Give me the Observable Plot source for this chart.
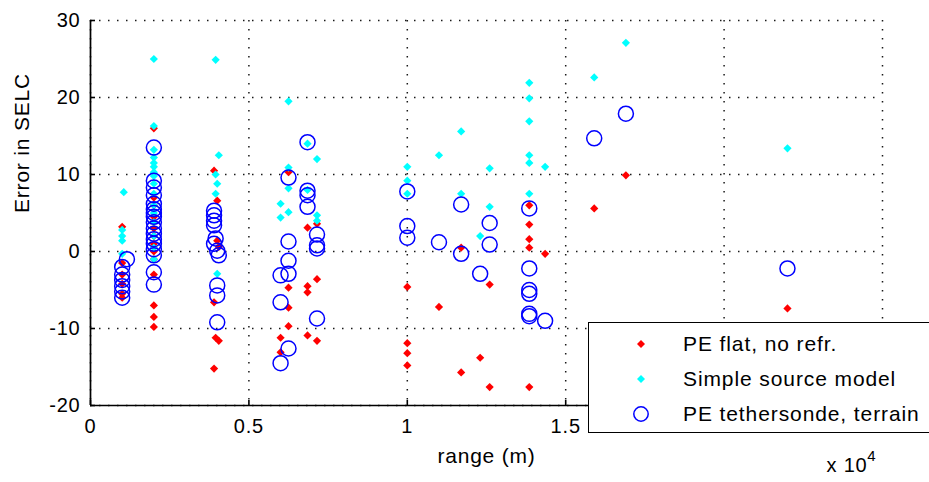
<!DOCTYPE html>
<html>
<head>
<meta charset="utf-8">
<script src="https://cdn.jsdelivr.net/npm/d3@7"></script>
<script src="https://cdn.jsdelivr.net/npm/@observablehq/plot@0.6"></script>
<style>
  html, body { margin: 0; padding: 0; background: #fff; }
  #wrap { position: relative; width: 929px; height: 482px; overflow: hidden; font-family: "Liberation Sans", Arial, sans-serif; }
  #legend { position: absolute; left: 588px; top: 322px; width: 360px; height: 111px; background: #fff; border: 1px solid #000; box-sizing: border-box; }
  .row { position: absolute; left: 0; height: 30px; display: flex; align-items: center; font-size: 21px; letter-spacing: 0.9px; color: #000; white-space: nowrap; }
  .row svg { margin-left: 43px; margin-right: 33px; }
</style>
</head>
<body>
<div id="wrap"></div>
<script>
// ---- Data (range in m, error in dB) ----
const xTicks = [0, 5000, 10000, 15000, 20000, 25000];
const xTickLabels = ["0", "0.5", "1", "1.5", "2", "2.5"];
const yTicks = [-20, -10, 0, 10, 20, 30];
const yTickLabels = ["-20", "-10", "0", "10", "20", "30"];

const seriesNames = ["PE flat, no refr.", "Simple source model", "PE tethersonde, terrain"];

const peFlatRange = [
  1000, 1000, 1000, 1000, 1000, 1000,
  2000, 2000, 2000, 2000, 2000, 2000, 2000, 2000, 2000, 2000, 2000, 2000, 2000,
  3900, 4000, 4000, 4050, 3900, 3950, 4050, 3900,
  6000, 6000, 6250, 6250, 6250, 6250, 6850, 6850, 6850, 6850, 7150, 7150, 7150,
  10000, 10000, 10000, 10000, 11000, 11700, 11700, 12300, 12600, 12600,
  13850, 13850, 13850, 13850, 13850, 14350, 15900, 16900, 22000
];
const peFlatError = [
  3.2, -1.5, -3, -4.2, -5.5, -6,
  16, 7, 6, 4.5, 3, 2, 1, 0, -1, -3, -7, -8.5, -9.8,
  10.5, 6.6, 1.4, 0.6, -6.6, -11.2, -11.6, -15.2,
  -11.2, -13.1, 10.3, -4.7, -7.3, -9.7, 3.1, -4.5, -5.3, -10.9, 3.6, -3.6, -11.6,
  -4.6, -11.9, -13.2, -14.8, -7.2, 0.5, -15.7, -13.8, -4.3, -17.6,
  6.0, 3.5, 1.6, 0.5, -17.6, -0.3, 5.6, 9.9, -7.4
];

const simpleRange = [
  1050, 1000, 1000, 1000, 1000,
  2000, 2000, 2000, 2000, 2000, 2000, 2000, 2000, 2000, 2000, 2000, 2000, 2000, 2000, 2000, 2000,
  3950, 4050, 3950, 4000, 3950, 4000,
  6000, 6000, 6250, 6250, 6250, 6250, 6850, 6850, 7150, 7150, 7150,
  10000, 10000, 10000, 11000, 11700, 11700, 12300, 12600, 12600,
  13850, 13850, 13850, 13850, 13850, 13850, 14350, 15900, 16900, 22000
];
const simpleError = [
  7.7, 2.8, 2.0, 1.4, -0.3,
  25, 16.3, 13.2, 12.2, 11.5, 11, 10.3, 9.8, 8.8, 7.5, 6, 5, 3.8, 2, 0.5, -1,
  24.9, 12.5, 10, 8.8, 7.5, -2.9,
  6.2, 4.4, 19.5, 10.9, 8.2, 5.1, 14.0, 8.0, 12, 4.7, 4.0,
  11.0, 9.2, 7.5, 12.5, 15.6, 7.5, 2.0, 10.8, 5.8,
  21.9, 19.9, 16.9, 12.5, 11.5, 7.5, 11.0, 22.6, 27.1, 13.4
];

const tetherRange = [
  1150, 1000, 1000, 1000, 1000, 1000, 1000,
  2000, 2000, 2000, 2000, 2000, 2000, 2000, 2000, 2000, 2000, 2000, 2000, 2000, 2000, 2000, 2000, 2000,
  3900, 3900, 3900, 3900, 3950, 3900, 4000, 4050, 4000, 4000, 4000,
  6000, 6000, 6000, 6250, 6250, 6250, 6250, 6250, 6850, 6850, 6850, 6850, 7150, 7150, 7150, 7150,
  10000, 10000, 10000, 11000, 11700, 11700, 12300, 12600, 12600,
  13850, 13850, 13850, 13850, 13850, 13850, 14350, 15900, 16900, 22000
];
const tetherError = [
  -1, -2, -3, -3.7, -4.5, -5.2, -6,
  13.5, 9.2, 8.3, 7.3, 6.2, 5.5, 5, 4.5, 3.8, 3, 2.3, 1.6, 1, 0.3, -0.5, -2.7, -4.3,
  5.3, 4.7, 4.0, 3.4, 1.7, 1.0, 0.1, -0.5, -4.4, -5.7, -9.2,
  -3.1, -6.6, -14.5, 9.6, 1.3, -1.2, -2.9, -12.6, 14.2, 7.9, 7.3, 5.8, 2.2, 0.8, 0.4, -8.7,
  7.8, 3.3, 1.8, 1.2, 6.1, -0.3, -2.9, 3.7, 0.9,
  5.6, -2.2, -5.0, -5.5, -8.1, -8.4, -9.0, 14.7, 17.9, -2.2
];

const colors = ["#ff0000", "#00ffff", "#0000ff"];

const toRows = (xs, ys) => xs.map((x, i) => ({x, y: ys[i]}));
const peFlat = toRows(peFlatRange, peFlatError);
const simple = toRows(simpleRange, simpleError);
const tether = toRows(tetherRange, tetherError);

const font = "'Liberation Sans', Arial, sans-serif";

const chart = Plot.plot({
  width: 929,
  height: 482,
  marginLeft: 90,
  marginRight: 47,
  marginTop: 20,
  marginBottom: 77,
  style: {fontFamily: font, fontSize: "20px", background: "#fff", color: "#000", letterSpacing: "0.8px"},
  x: {domain: [0, 25000], label: null},
  y: {domain: [-20, 30], label: null},
  marks: [
    Plot.ruleX(xTicks, {stroke: "#000", strokeWidth: 1.5, strokeDasharray: "1.5,7.5", strokeOpacity: 0.9}),
    Plot.ruleY(yTicks, {stroke: "#000", strokeWidth: 1.5, strokeDasharray: "1.5,7.5", strokeOpacity: 0.9}),
    Plot.dot(peFlat, {x: "x", y: "y", symbol: "diamond2", r: 3.7, fill: colors[0], stroke: null}),
    Plot.dot(simple, {x: "x", y: "y", symbol: "diamond2", r: 3.7, fill: colors[1], stroke: null}),
    Plot.dot(tether, {x: "x", y: "y", symbol: "circle", r: 7.5, fill: "none", stroke: colors[2], strokeWidth: 1.5}),
    Plot.ruleX([0], {stroke: "#000", strokeWidth: 1.7}),
    Plot.ruleY([-20], {stroke: "#000", strokeWidth: 1.7}),
    Plot.axisX({ticks: xTicks, tickFormat: d => xTickLabels[xTicks.indexOf(d)], tickSize: -5, tickPadding: 18, fontSize: 20, strokeWidth: 1.6}),
    Plot.axisY({ticks: yTicks, tickFormat: d => yTickLabels[yTicks.indexOf(d)], tickSize: -5, tickPadding: 15, fontSize: 20, strokeWidth: 1.6}),
    Plot.text(["range (m)"], {frameAnchor: "bottom", dy: 57, fontSize: 21}),
    Plot.text(["Error in SELC"], {frameAnchor: "left", dx: -68, rotate: -90, fontSize: 21}),
    Plot.text(["x 10"], {frameAnchor: "bottom-right", textAnchor: "end", dx: -15, dy: 66, fontSize: 20}),
    Plot.text(["4"], {frameAnchor: "bottom-right", dx: -6, dy: 55, fontSize: 15})
  ]
});

const wrap = document.getElementById("wrap");
wrap.appendChild(chart);

// Legend (overlay, matching the boxed legend in the lower right)
const legend = document.createElement("div");
legend.id = "legend";
const symbolSvg = (i) => {
  if (i === 2) return `<svg width="18" height="18" viewBox="-9 -9 18 18"><circle r="7.2" fill="none" stroke="${colors[2]}" stroke-width="1.5"/></svg>`;
  return `<svg width="18" height="18" viewBox="-9 -9 18 18"><path d="M0,-4L4,0L0,4L-4,0Z" fill="${colors[i]}"/></svg>`;
};
seriesNames.forEach((name, i) => {
  const row = document.createElement("div");
  row.className = "row";
  row.style.top = (6 + i * 35) + "px";
  row.innerHTML = symbolSvg(i) + `<span>${name}</span>`;
  legend.appendChild(row);
});
wrap.appendChild(legend);
</script>
</body>
</html>
